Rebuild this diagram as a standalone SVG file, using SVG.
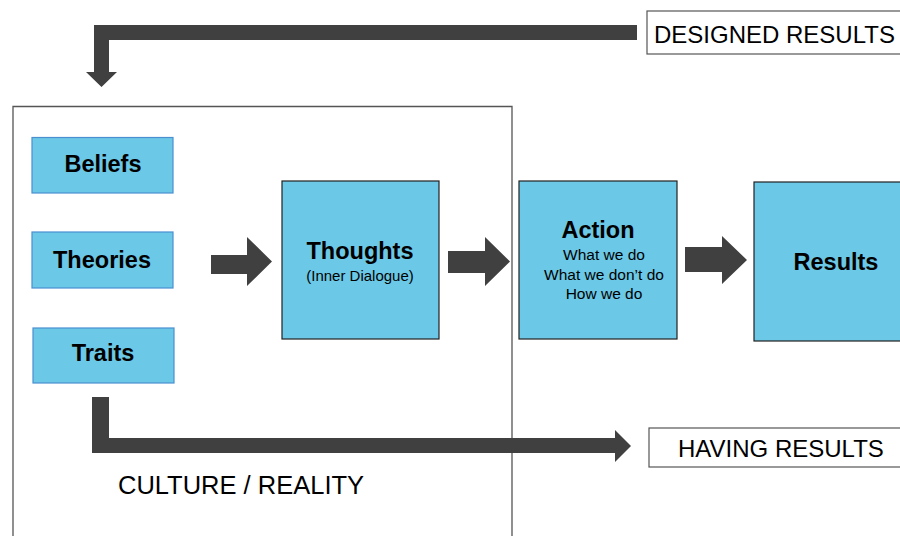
<svg xmlns="http://www.w3.org/2000/svg" width="900" height="536" viewBox="0 0 900 536">
<style>
.small{fill:#6bc8e6;stroke:#4a8fd0;stroke-width:1.2}
.big{fill:#6bc8e6;stroke:#222;stroke-width:1.2}
.lbl{fill:#fff;stroke:#555;stroke-width:1.2}
.arr{fill:#404040}
text{font-family:"Liberation Sans",Arial,sans-serif;fill:#000}
.b{font-weight:bold;font-size:23.5px;text-anchor:middle}
.s{font-size:15.5px;text-anchor:middle}
.c{font-size:24px}
</style>
<rect width="900" height="536" fill="#fff"/>
<g id="frame">
<path d="M13,536 V106.5 H512 V536" fill="none" stroke="#555" stroke-width="1.3"/>
<text class="c" x="118" y="494" style="font-size:25.5px">CULTURE / REALITY</text>
</g>
<g id="connectors">
<polygon class="arr" points="637,25 94,25 94,72 86,72 101.5,87 117,72 109,72 109,40 637,40"/>
<polygon class="arr" points="92,397 109,397 109,438 615,438 615,430 631,446 615,462 615,453 92,453"/>
<polygon class="arr" points="211,255 247,255 247,237 272,261.5 247,286 247,274 211,274"/>
<polygon class="arr" points="448,251 485,251 485,237 510,261.5 485,286 485,273 448,273"/>
<polygon class="arr" points="685,247 722,247 722,236 747,260 722,284 722,272 685,272"/>
</g>
<g id="designed">
<rect class="lbl" x="647" y="11" width="260" height="43"/>
<text class="c" x="654" y="43">DESIGNED RESULTS</text>
</g>
<g id="having">
<rect class="lbl" x="649" y="428" width="260" height="39"/>
<text class="c" x="678" y="457">HAVING RESULTS</text>
</g>
<g id="beliefs">
<rect class="small" x="32" y="137.5" width="141" height="55.5"/>
<text class="b" x="103" y="172">Beliefs</text>
</g>
<g id="theories">
<rect class="small" x="32" y="232" width="141" height="56"/>
<text class="b" x="102" y="268">Theories</text>
</g>
<g id="traits">
<rect class="small" x="33" y="328" width="141" height="55"/>
<text class="b" x="103" y="361">Traits</text>
</g>
<g id="thoughts">
<rect class="big" x="282" y="181" width="157" height="158"/>
<text class="b" x="360" y="259">Thoughts</text>
<text class="s" x="360" y="281" style="font-size:15px">(Inner Dialogue)</text>
</g>
<g id="action">
<rect class="big" x="519" y="181" width="158" height="158"/>
<text class="b" x="598" y="238">Action</text>
<text class="s" x="604" y="260">What we do</text>
<text class="s" x="604" y="280">What we don’t do</text>
<text class="s" x="604" y="299">How we do</text>
</g>
<g id="results">
<rect class="big" x="754" y="182" width="160" height="159"/>
<text class="b" x="836" y="270">Results</text>
</g>
</svg>
